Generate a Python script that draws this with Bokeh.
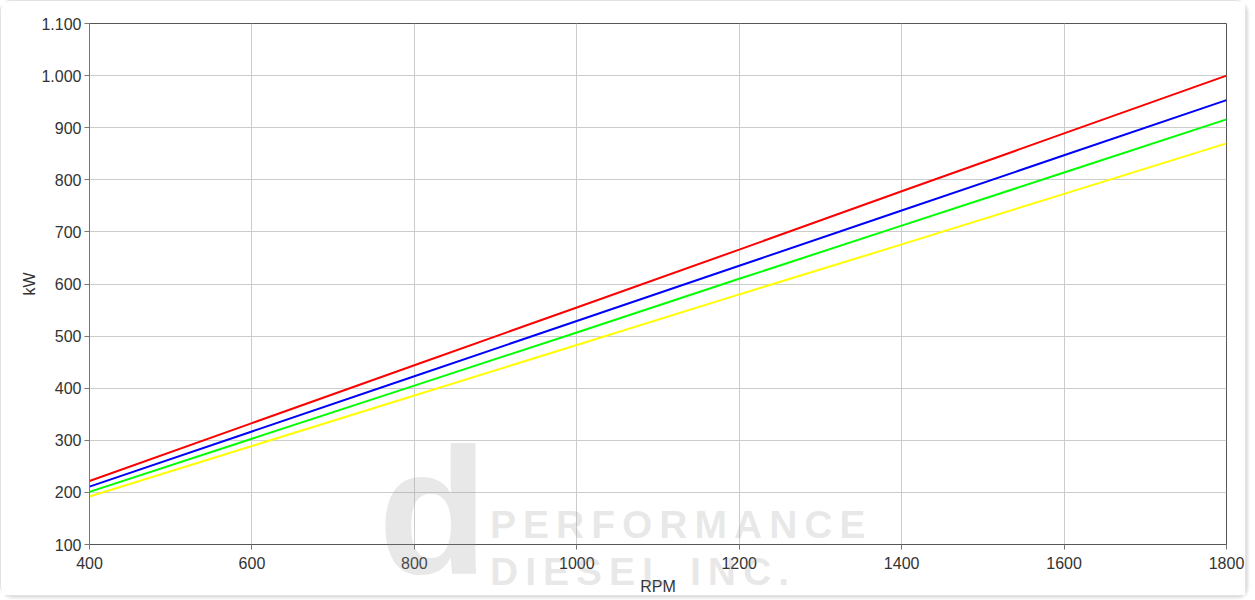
from bokeh.plotting import figure
from bokeh.models import FixedTicker, CustomJSTickFormatter, Range1d, Div
from bokeh.layouts import column
from bokeh.embed import file_html
from bokeh.resources import INLINE

rpm = [400, 600, 800, 1000, 1200, 1400, 1600, 1800]
kw_red = [222, 333, 444, 555, 666, 778, 889, 1000]
kw_blue = [211, 317, 423, 529, 635, 741, 847, 953]
kw_green = [201, 303, 405, 507, 610, 712, 814, 916]
kw_yellow = [192, 289, 386, 483, 580, 676, 773, 870]
x_ticks = [400, 600, 800, 1000, 1200, 1400, 1600, 1800]
y_ticks = [100, 200, 300, 400, 500, 600, 700, 800, 900, 1000, 1100]
watermark_logo = "d"
watermark_lines = ["PERFORMANCE", "DIESEL INC."]

FONT = "Liberation Sans"

p = figure(width=1246, height=596, output_backend="svg", toolbar_location=None,
           x_range=Range1d(400, 1800), y_range=Range1d(100, 1100),
           min_border_left=88, min_border_right=21, min_border_top=22, min_border_bottom=51,
           background_fill_color="white", border_fill_color="white")
p.styles = {"border": "1px solid #e2e2e2", "border-radius": "10px",
            "box-shadow": "2px 2px 3px #dcdcdc"}

p.outline_line_color = "#555555"
p.outline_line_width = 1

for ys, c in [(kw_yellow, "#ffff00"), (kw_green, "#00ff00"), (kw_blue, "#0000ff"), (kw_red, "#ff0000")]:
    p.line(rpm, ys, line_color=c, line_width=2)

p.xaxis.ticker = FixedTicker(ticks=x_ticks)
p.yaxis.ticker = FixedTicker(ticks=y_ticks)
p.yaxis.formatter = CustomJSTickFormatter(code="""
var s = Math.round(tick).toString();
return s.replace(/\\B(?=(\\d{3})+(?!\\d))/g, '.');
""")

p.xgrid.grid_line_color = "#cccccc"
p.ygrid.grid_line_color = "#cccccc"

for ax in (p.xaxis, p.yaxis):
    ax.axis_line_color = "#777777"
    ax.major_tick_line_color = "#777777"
    ax.major_tick_out = 5
    ax.major_tick_in = 0
    ax.minor_tick_line_color = None
    ax.major_label_text_font = FONT
    ax.major_label_text_font_size = "16px"
    ax.major_label_text_color = "#333333"
    ax.axis_label_text_font = FONT
    ax.axis_label_text_font_size = "16px"
    ax.axis_label_text_font_style = "normal"
    ax.axis_label_text_color = "#333333"

p.xaxis.axis_label = "RPM"
p.yaxis.axis_label = "kW"
p.xaxis.axis_line_color = "#555555"
p.xaxis.major_label_standoff = 7
p.xaxis.axis_label_standoff = 6
p.yaxis.major_label_standoff = 3
p.yaxis.axis_label_standoff = 0

# semi-transparent watermark laid over the chart
wm_col = "rgba(150,150,150,0.22)"
base = f"position:absolute;font-family:'{FONT}';font-weight:bold;color:{wm_col};white-space:nowrap;"
html = (
    '<div style="position:relative;width:560px;height:174px;overflow:hidden;pointer-events:none;">'
    f'<span style="{base}left:-5px;top:-6px;font-size:180px;line-height:180px;">{watermark_logo}</span>'
    f'<span style="{base}left:107px;top:77px;font-size:39px;line-height:39px;letter-spacing:7px;">{watermark_lines[0]}</span>'
    f'<span style="{base}left:107px;top:124px;font-size:39px;line-height:39px;letter-spacing:7px;">{watermark_lines[1]}</span>'
    '</div>'
)
wm = Div(text=html, width=560, height=174,
         styles={"position": "absolute", "left": "378px", "top": "423px",
                 "pointer-events": "none", "z-index": "5"})

layout = column(p, wm)
open("out.html", "w").write(file_html(layout, INLINE))
